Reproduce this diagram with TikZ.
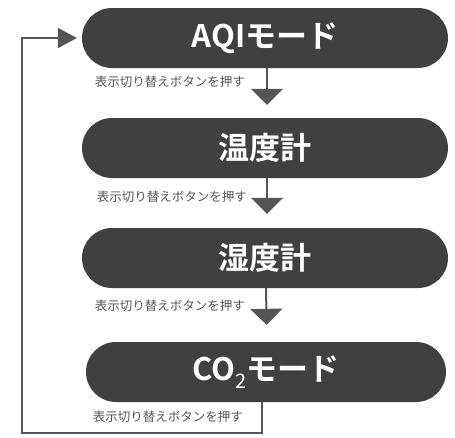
\documentclass[tikz,border=0pt]{standalone}
\usepackage{fontspec}
\newfontfamily\jpr{Noto Sans CJK JP}
\newfontfamily\jpb{Noto Sans CJK JP Bold}
\usetikzlibrary{arrows.meta}
\definecolor{boxc}{HTML}{404040}
\definecolor{linec}{HTML}{555555}
\tikzset{
  mode/.style={fill=boxc, rounded corners=30pt, minimum height=60pt, inner sep=0pt,
    text=white, font=\jpb\fontsize{31}{31}\selectfont},
  lbl/.style={anchor=east, text=linec, inner sep=0pt, font=\jpr\fontsize{12.5}{12.5}\selectfont},
  flow/.style={draw=linec, line width=2pt, -{Triangle[width=32pt,length=16pt]}},
  loopflow/.style={draw=linec, line width=2pt, -{Triangle[width=20pt,length=19pt]}}
}
\begin{document}
\begin{tikzpicture}[x=1pt,y=-1pt]
\useasboundingbox (0,0) rectangle (455,437);
\node[mode, minimum width=366pt] (b1) at (265,38) {AQIモード};
\node[mode, minimum width=366pt] (b2) at (265,148) {温度計};
\node[mode, minimum width=366pt] (b3) at (265,258) {湿度計};
\node[mode, minimum width=360pt] (b4) at (266,372) {CO\raisebox{-0.28em}{\jpr\fontsize{20}{20}\selectfont 2}モード};
\node[lbl] (l1) at (245,82) {表示切り替えボタンを押す};
\node[lbl] (l2) at (247,197) {表示切り替えボタンを押す};
\node[lbl] (l3) at (245,306) {表示切り替えボタンを押す};
\node[lbl] (l4) at (243,417) {表示切り替えボタンを押す};
\draw[flow, shorten >=13pt] ([xshift=2pt]b1.south) -- ([xshift=2pt]b2.north);
\draw[flow, shorten >=14pt] ([xshift=2pt]b2.south) -- ([xshift=2pt]b3.north);
\draw[flow, shorten >=17pt] ([xshift=1pt]b3.south) -- ([xshift=1pt]b4.north);
\coordinate (lb) at (22,433);
\draw[loopflow, shorten >=5pt] ([xshift=-4pt]b4.south) |- (lb) |- (b1.west);
\end{tikzpicture}
\end{document}
